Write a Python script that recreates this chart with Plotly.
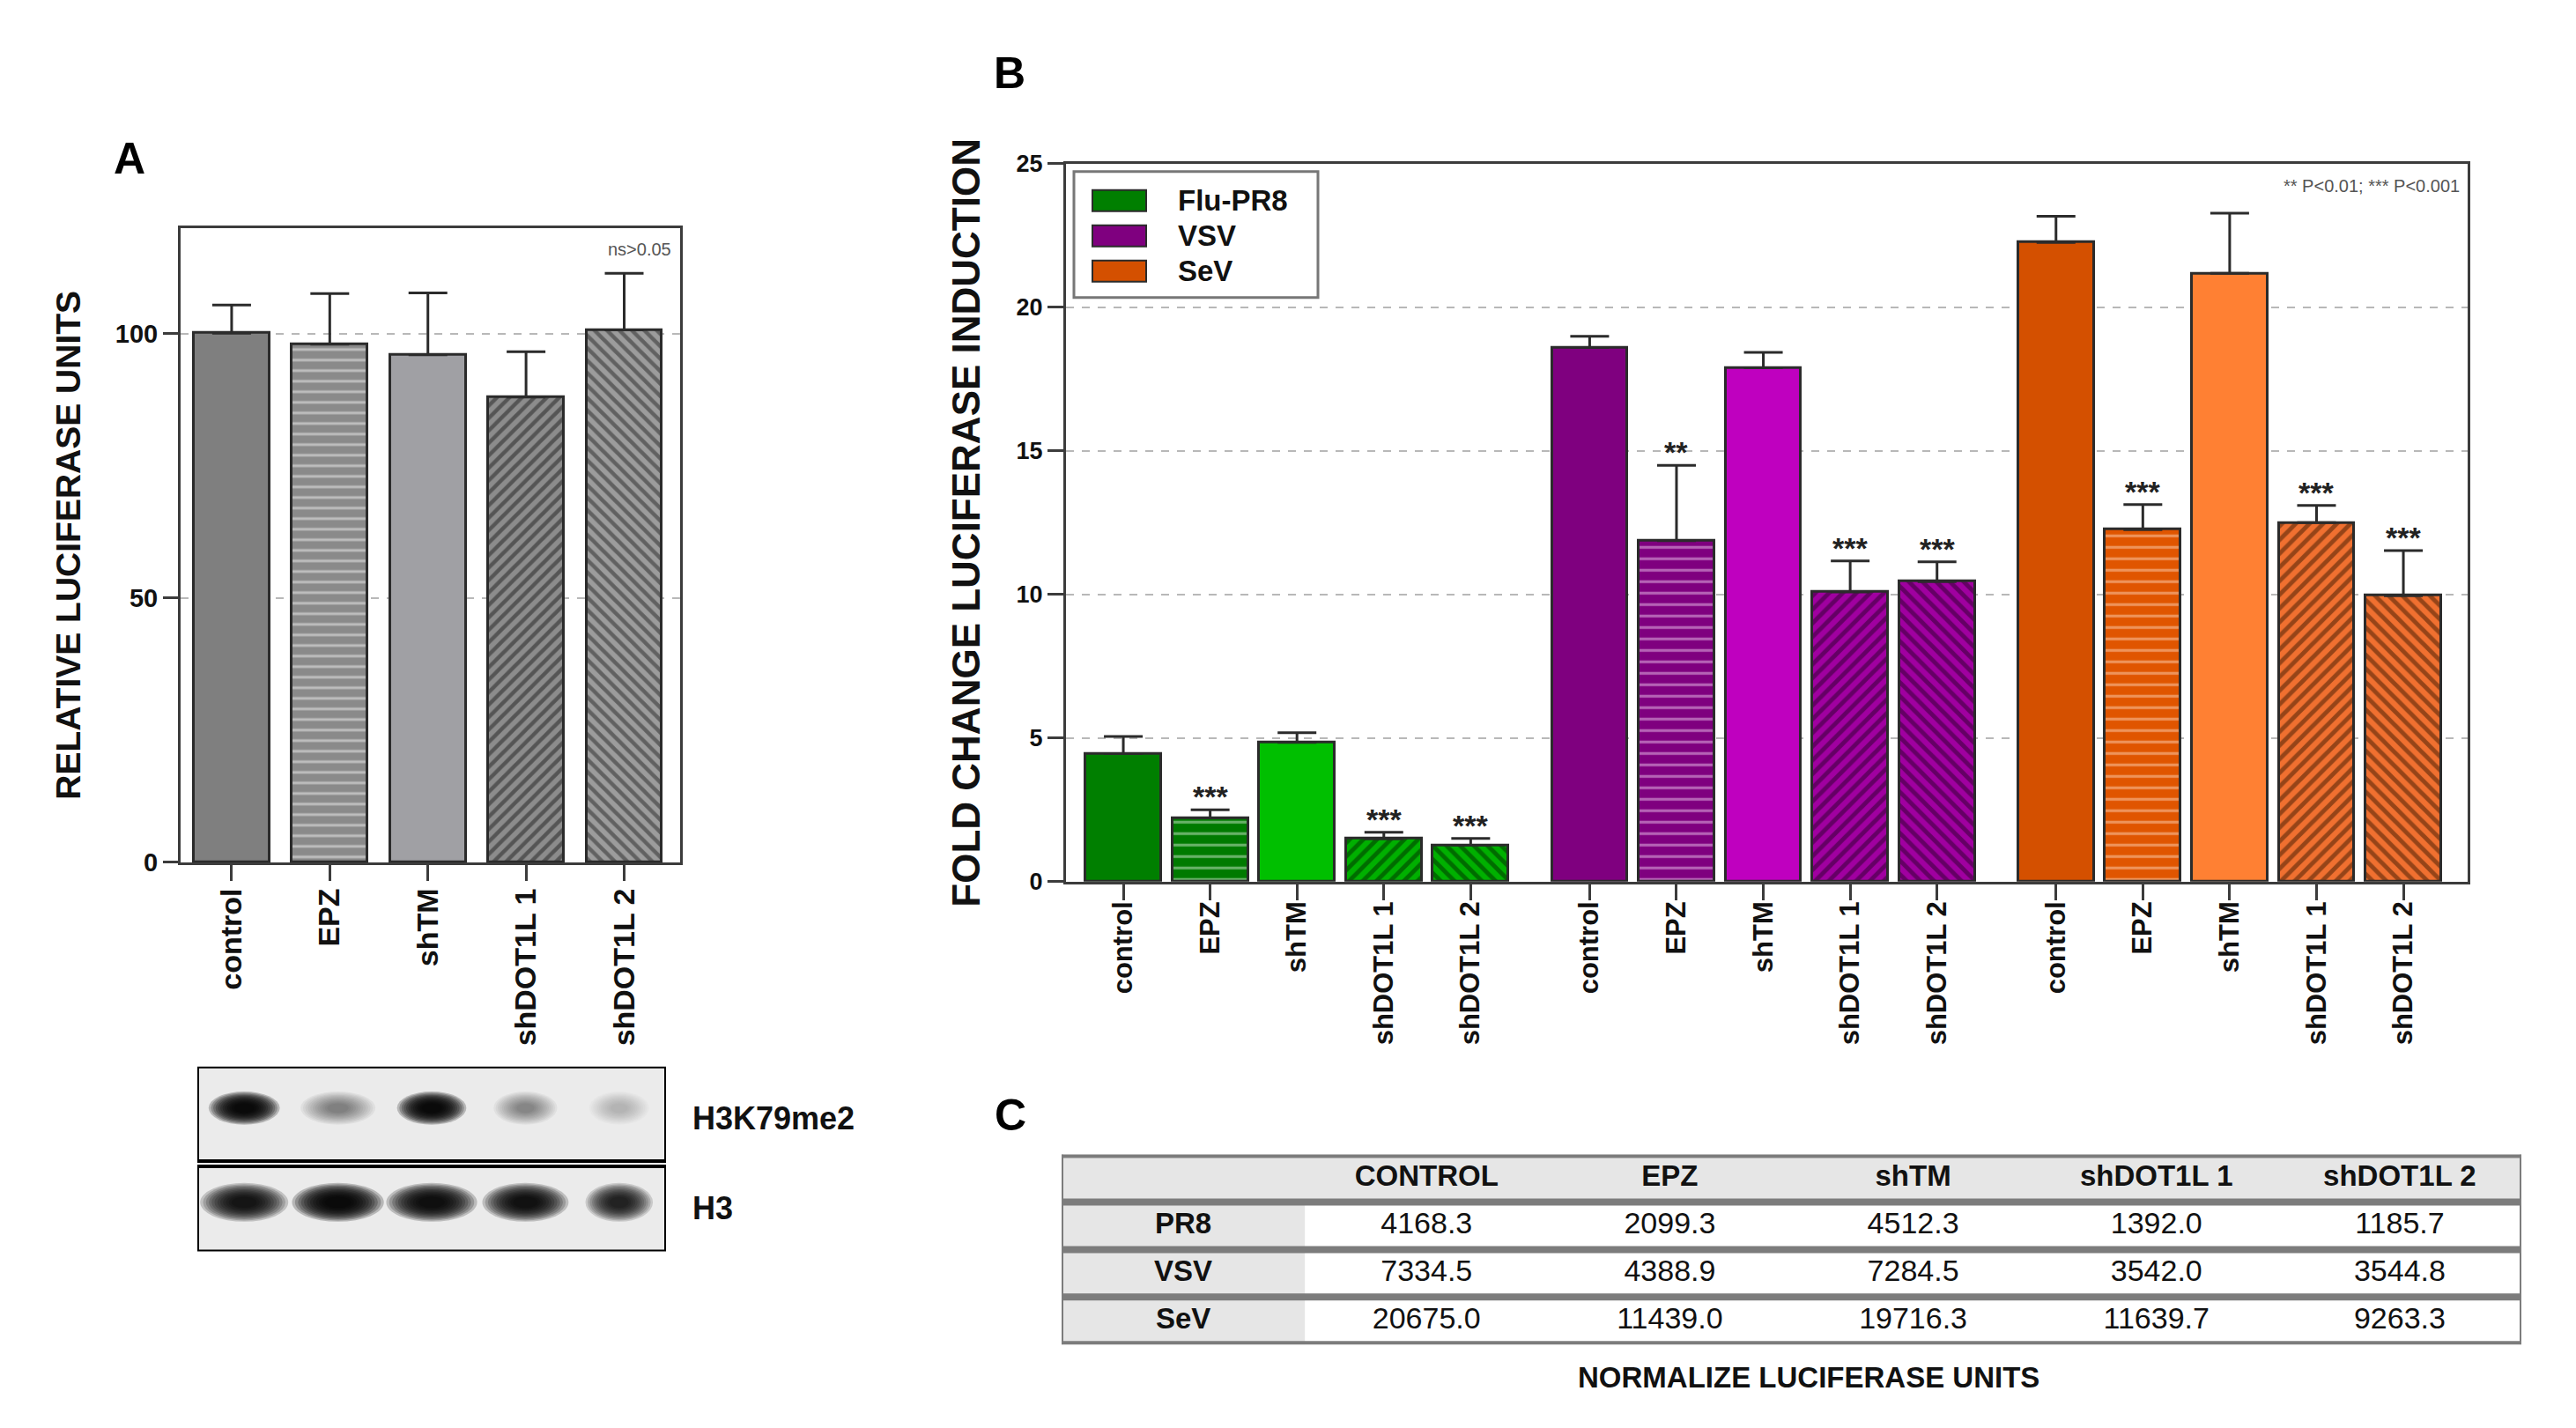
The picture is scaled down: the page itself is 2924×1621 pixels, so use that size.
import plotly.graph_objects as go

W, H = 2924, 1621

# ---- panel A: relative luciferase units
cats = ["control", "EPZ", "shTM", "shDOT1L 1", "shDOT1L 2"]
rel_mean = [100.1, 98.0, 96.0, 88.0, 100.7]
rel_err = [5.3, 9.6, 11.7, 8.6, 10.7]

# western blot band strength (0..1), one per lane
blot_lanes = [0, 1, 2, 3, 4]
h3k79_band = [0.95, 0.45, 0.95, 0.40, 0.22]
h3_band = [0.90, 0.95, 0.93, 0.92, 0.85]

# ---- panel B: fold change luciferase induction
viruses = ["Flu-PR8", "VSV", "SeV"]
flu_mean = [4.46, 2.22, 4.85, 1.49, 1.27]
flu_err = [0.60, 0.28, 0.34, 0.23, 0.24]
vsv_mean = [18.60, 11.87, 17.89, 10.09, 10.45]
vsv_err = [0.39, 2.63, 0.54, 1.08, 0.69]
sev_mean = [22.26, 12.26, 21.18, 12.50, 9.96]
sev_err = [0.91, 0.87, 2.10, 0.60, 1.57]
flu_sig = ["", "***", "", "***", "***"]
vsv_sig = ["", "**", "", "***", "***"]
sev_sig = ["", "***", "", "***", "***"]

# ---- panel C: table
table_cols = ["CONTROL", "EPZ", "shTM", "shDOT1L 1", "shDOT1L 2"]
table_rows = ["PR8", "VSV", "SeV"]
pr8_units = [4168.3, 2099.3, 4512.3, 1392.0, 1185.7]
vsv_units = [7334.5, 4388.9, 7284.5, 3542.0, 3544.8]
sev_units = [20675.0, 11439.0, 19716.3, 11639.7, 9263.3]


def fx(p):
    return p / W


def fy(p):
    # pixel row in the target picture -> paper fraction (small stretch for the capture)
    return 1 - ((p - 12) / 0.982) / H


FONT = "Arial, Liberation Sans, sans-serif"
EDGE = "#2b2b2b"
pat_shapes = ["", "-", "", "/", "\\"]
pat_size = [8, 12, 8, 10, 10]
pat_solid = [0.3, 0.25, 0.3, 0.45, 0.45]

fig = go.Figure()


def add_bar(x, y, err, fill, shape, fg, size, solid, xa, ya, width):
    fig.add_bar(
        x=[x], y=[y], width=width, xaxis=xa, yaxis=ya,
        marker=dict(color=fill, line=dict(color=EDGE, width=3),
                    pattern=dict(shape=shape, fgcolor=fg, size=size, solidity=solid,
                                 fillmode="overlay")),
        error_y=dict(type="data", array=[err], arrayminus=[0], symmetric=False,
                     color=EDGE, thickness=3, width=22),
    )


# A bars
a_fill = ["#7f7f7f", "#8a8a8a", "#a0a0a4", "#8c8c8c", "#9c9c9c"]
a_fg = ["#7f7f7f", "#f2f2f2", "#a0a0a4", "#1e1e1e", "#262626"]
for i in range(len(cats)):
    add_bar(i, rel_mean[i], rel_err[i], a_fill[i], pat_shapes[i], a_fg[i],
            pat_size[i], pat_solid[i], "x", "y", 0.77)

# B bars
group_step = 5.37
group_means = [flu_mean, vsv_mean, sev_mean]
group_errs = [flu_err, vsv_err, sev_err]
group_sigs = [flu_sig, vsv_sig, sev_sig]
fills = [
    ["#007f00", "#007a00", "#00bf00", "#00b000", "#00b000"],
    ["#7f007f", "#7f007f", "#bf00bf", "#a000a0", "#a000a0"],
    ["#d45000", "#e05500", "#ff8033", "#f07030", "#f07030"],
]
lines_fg = [
    ["#007f00", "#cde8cd", "#00bf00", "#002800", "#002800"],
    ["#7f007f", "#ecc4ec", "#bf00bf", "#2a002a", "#2a002a"],
    ["#d45000", "#fbd2b4", "#ff8033", "#3c1800", "#3c1800"],
]
b_x = []
for g in range(3):
    for i in range(5):
        xpos = g * group_step + i
        b_x.append(xpos)
        add_bar(xpos, group_means[g][i], group_errs[g][i], fills[g][i], pat_shapes[i],
                lines_fg[g][i], pat_size[i] + 1, pat_solid[i], "x2", "y2", 0.87)

# invisible anchor for blot axes
fig.add_scatter(x=blot_lanes, y=[0.5] * 5, mode="markers", marker=dict(opacity=0),
                xaxis="x3", yaxis="y3", hoverinfo="skip")

# table text
fig.add_scatter(x=[1, 2, 3, 4, 5], y=[3] * 5, text=table_cols, mode="text",
                textfont=dict(family=FONT, size=33, color="#111", weight="bold"),
                xaxis="x4", yaxis="y4", hoverinfo="skip")
fig.add_scatter(x=[0, 0, 0], y=[2, 1, 0], text=table_rows, mode="text",
                textfont=dict(family=FONT, size=33, color="#111", weight="bold"),
                xaxis="x4", yaxis="y4", hoverinfo="skip")
for r, vals in enumerate([pr8_units, vsv_units, sev_units]):
    fig.add_scatter(x=[1, 2, 3, 4, 5], y=[2 - r] * 5, text=[f"{v:.1f}" for v in vals],
                    mode="text", textfont=dict(family=FONT, size=34, color="#111"),
                    xaxis="x4", yaxis="y4", hoverinfo="skip")

axis_style = dict(showline=True, linecolor="#3c3c3c", linewidth=3, mirror=True,
                  ticks="outside", tickcolor="#3c3c3c", tickwidth=3, zeroline=False)
grid_style = dict(showgrid=True, gridcolor="#b8b8b8", griddash="dash", gridwidth=2)

fig.update_layout(
    width=W, height=H, margin=dict(l=0, r=0, t=0, b=0),
    paper_bgcolor="white", plot_bgcolor="white", showlegend=False,
    font=dict(family=FONT, color="#111"),
    bargap=0, barmode="overlay",
    xaxis=dict(domain=[fx(205), fx(772)], range=[-0.52, 4.57], anchor="y",
               tickvals=list(range(5)), ticktext=cats, tickangle=-90, ticklen=18,
               ticklabelstandoff=-5,
               tickfont=dict(size=34, weight="bold"), showgrid=False, **axis_style),
    yaxis=dict(domain=[fy(977), fy(256)], range=[0, 120], anchor="x",
               tickvals=[0, 50, 100], ticklen=17, tickfont=dict(size=29, weight="bold"),
               title=dict(text="RELATIVE LUCIFERASE UNITS", standoff=28,
                          font=dict(size=39, weight="bold")),
               **grid_style, **axis_style),
    xaxis2=dict(domain=[fx(1210), fx(2801)], range=[-0.66, 15.48], anchor="y2",
                tickvals=b_x, ticktext=cats * 3, tickangle=-90, ticklen=18,
                ticklabelstandoff=-11,
                tickfont=dict(size=31, weight="bold"), showgrid=False, **axis_style),
    yaxis2=dict(domain=[fy(999), fy(183)], range=[0, 25], anchor="x2",
                tickvals=[0, 5, 10, 15, 20, 25], ticklen=18,
                tickfont=dict(size=27, weight="bold"),
                title=dict(text="FOLD CHANGE LUCIFERASE INDUCTION", standoff=28,
                           font=dict(size=44, weight="bold")),
                **grid_style, **axis_style),
    xaxis3=dict(domain=[fx(224), fx(756)], range=[-0.5, 4.5], anchor="y3", visible=False),
    yaxis3=dict(domain=[fy(1419), fy(1209)], range=[0, 1], anchor="x3", visible=False),
    xaxis4=dict(domain=[fx(1205), fx(2862)], range=[-0.5, 5.5], anchor="y4", visible=False),
    yaxis4=dict(domain=[fy(1525), fy(1309)], range=[-0.5, 3.5], anchor="x4", visible=False),
)

shapes = []

# western blot boxes and bands
top_box = (0.488, 1.0)
bot_box = (0.0, 0.459)
for y0, y1 in (top_box, bot_box):
    shapes.append(dict(type="rect", xref="x3", yref="y3", x0=-0.5, x1=4.5, y0=y0, y1=y1,
                       fillcolor="#ebebeb", line=dict(color="black", width=4), layer="below"))
top_w = [0.76, 0.80, 0.74, 0.68, 0.64]
bot_w = [0.94, 0.98, 0.97, 0.92, 0.72]
n_layers = 12
for lane, s_top, s_bot in zip(blot_lanes, h3k79_band, h3_band):
    for s, cy, hw, hh in ((s_top, 0.775, top_w[lane] / 2, 0.09),
                          (s_bot, 0.265, bot_w[lane] / 2, 0.105)):
        a = 1 - (1 - s) ** (1 / n_layers)
        for k in range(n_layers):
            f = 1 - k * 0.065
            shapes.append(dict(type="circle", xref="x3", yref="y3",
                               x0=lane - hw * f, x1=lane + hw * f,
                               y0=cy - hh * f, y1=cy + hh * f,
                               fillcolor="black", opacity=a, line=dict(width=0)))

# table backgrounds and rules
shapes.append(dict(type="rect", xref="x4", yref="y4", x0=-0.5, x1=5.5, y0=2.5, y1=3.5,
                   fillcolor="#e6e6e6", line=dict(width=0), layer="below"))
shapes.append(dict(type="rect", xref="x4", yref="y4", x0=-0.5, x1=0.5, y0=-0.5, y1=2.5,
                   fillcolor="#e6e6e6", line=dict(width=0), layer="below"))
for yy in (3.5, 2.5, 1.5, 0.5, -0.5):
    shapes.append(dict(type="line", xref="x4", yref="y4", x0=-0.5, x1=5.5, y0=yy, y1=yy,
                       line=dict(color="#7c7c7c", width=8)))
for xx in (-0.5, 5.5):
    shapes.append(dict(type="line", xref="x4", yref="y4", x0=xx, x1=xx, y0=-0.5, y1=3.5,
                       line=dict(color="#7c7c7c", width=4)))

# legend for panel B
shapes.append(dict(type="rect", xref="paper", yref="paper", x0=fx(1219), x1=fx(1496),
                   y0=fy(335), y1=fy(192), fillcolor="white",
                   line=dict(color="#777777", width=3)))
legend_rows = [225, 265, 305]
legend_colors = ["#007f00", "#7f007f", "#d45000"]
for yc, col in zip(legend_rows, legend_colors):
    shapes.append(dict(type="rect", xref="paper", yref="paper", x0=fx(1240), x1=fx(1301),
                       y0=fy(yc + 12), y1=fy(yc - 12), fillcolor=col,
                       line=dict(color=EDGE, width=2)))

fig.update_layout(shapes=shapes)

ann = []
for name, yc in zip(viruses, legend_rows):
    ann.append(dict(text=name, x=fx(1335), y=fy(yc), xref="paper", yref="paper",
                    xanchor="left", yanchor="middle", showarrow=False,
                    font=dict(size=33, weight="bold", color="#111")))

# significance stars
for g in range(3):
    for i in range(5):
        if group_sigs[g][i]:
            ann.append(dict(text=group_sigs[g][i], x=g * group_step + i,
                            y=group_means[g][i] + group_errs[g][i], xref="x2", yref="y2",
                            yanchor="bottom", yshift=-6, showarrow=False,
                            font=dict(size=34, weight="bold", color="#222")))

ann += [
    dict(text="ns>0.05", x=fx(764), y=fy(280), xref="paper", yref="paper",
         xanchor="right", yanchor="middle", showarrow=False,
         font=dict(size=20, color="#555")),
    dict(text="** P<0.01; *** P<0.001", x=fx(2794), y=fy(208), xref="paper", yref="paper",
         xanchor="right", yanchor="middle", showarrow=False,
         font=dict(size=20, color="#555")),
    dict(text="H3K79me2", x=fx(784), y=fy(1268), xref="paper", yref="paper",
         xanchor="left", yanchor="middle", showarrow=False,
         font=dict(size=36, weight="bold", color="#111")),
    dict(text="H3", x=fx(784), y=fy(1370), xref="paper", yref="paper",
         xanchor="left", yanchor="middle", showarrow=False,
         font=dict(size=36, weight="bold", color="#111")),
    dict(text="NORMALIZE LUCIFERASE UNITS", x=fx(2053), y=fy(1562), xref="paper",
         yref="paper", xanchor="center", yanchor="middle", showarrow=False,
         font=dict(size=33, weight="bold", color="#111")),
]
for letter, px, py in (("A", 147, 177), ("B", 1146, 80), ("C", 1147, 1264)):
    ann.append(dict(text=letter, x=fx(px), y=fy(py), xref="paper", yref="paper",
                    xanchor="center", yanchor="middle", showarrow=False,
                    font=dict(size=50, weight="bold", color="#000")))

fig.update_layout(annotations=ann)

# no page margin, so the figure fills the window exactly
fig.write_html("out.html", config={"displayModeBar": False},
               post_script="document.body.style.margin='0';"
                           "document.body.style.overflow='hidden';")
